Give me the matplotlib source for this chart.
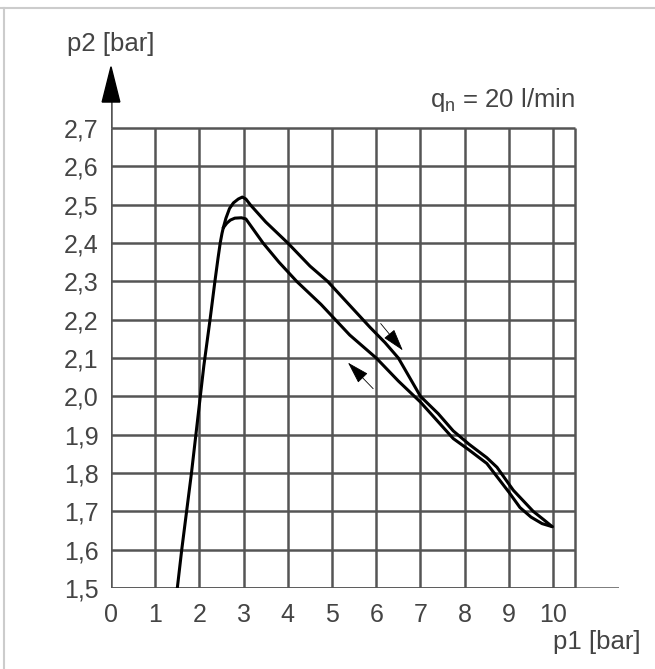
import numpy as np
import matplotlib
matplotlib.use('Agg')
import matplotlib.pyplot as plt
from matplotlib.lines import Line2D
from matplotlib.patches import Polygon

plt.rcParams['font.family'] = ['Liberation Sans', 'DejaVu Sans']
plt.rcParams['mathtext.default'] = 'regular'
TXT = '#444444'
GRID = '#555555'

# rising branch (shared by both curves)
rise_x = [1.50, 1.60, 1.71, 1.82, 1.92, 2.00, 2.10, 2.24, 2.35, 2.42, 2.47, 2.51, 2.54]
rise_y = [1.50, 1.60, 1.70, 1.80, 1.90, 1.98, 2.08, 2.20, 2.30, 2.36, 2.40, 2.425, 2.44]

# p1 increasing (upper branch)
up_x = [2.54, 2.60, 2.68, 2.77, 2.88, 2.97, 3.05, 3.15, 3.50, 4.00, 4.50, 4.90, 5.30,
        5.70, 5.86, 6.20, 6.50, 6.75, 7.00, 7.40, 7.74, 8.10, 8.50, 8.73, 9.10, 9.55,
        9.80, 9.98]
up_y = [2.44, 2.465, 2.49, 2.505, 2.515, 2.52, 2.515, 2.50, 2.455, 2.40, 2.34, 2.30, 2.25,
        2.20, 2.18, 2.14, 2.10, 2.05, 2.00, 1.955, 1.91, 1.875, 1.84, 1.815, 1.755, 1.70,
        1.677, 1.660]

# p1 decreasing (lower branch)
dn_x = [9.98, 9.75, 9.50, 9.25, 9.00, 8.50, 8.10, 7.74, 7.00, 6.50, 6.00, 5.40, 4.75,
        4.20, 3.80, 3.44, 3.05, 2.95, 2.80, 2.70, 2.62, 2.54]
dn_y = [1.660, 1.668, 1.685, 1.710, 1.750, 1.825, 1.860, 1.89, 1.985, 2.04, 2.10, 2.16,
        2.24, 2.30, 2.35, 2.40, 2.463, 2.466, 2.465, 2.46, 2.452, 2.44]

xticks = list(range(0, 11))
yticks = [1.5, 1.6, 1.7, 1.8, 1.9, 2.0, 2.1, 2.2, 2.3, 2.4, 2.5, 2.6, 2.7]
ylabels = [('%.1f' % v).replace('.', ',') for v in yticks]

fig = plt.figure(figsize=(6.55, 6.69), dpi=100)
ax = fig.add_axes([111 / 655, 81 / 669, 508 / 655, 522 / 669])
ax.set_xlim(0, 11.49)
ax.set_ylim(1.5, 2.862)
for s in ax.spines.values():
    s.set_visible(False)

# grid
ax.vlines(xticks + [10.5], 1.5, 2.7, color=GRID, lw=1.8, zorder=1)
ax.hlines(yticks, 0, 10.5, color=GRID, lw=1.8, zorder=1)
ax.hlines(1.5, 0, 11.49, color=GRID, lw=1.8, zorder=1)
ax.vlines(0, 2.7, 2.77, color=GRID, lw=1.8, zorder=1)
ax.add_patch(Polygon([[-0.2, 2.768], [0.2, 2.768], [0, 2.86]], closed=True,
                     color='black', clip_on=False, zorder=3))

# curves
lkw = dict(color='black', lw=2.2, zorder=2, solid_joinstyle='round', solid_capstyle='round')
ax.plot(rise_x, rise_y, **lkw)
ax.plot(up_x, up_y, **lkw)
ax.plot(dn_x, dn_y, **lkw)

# direction arrows
aprops = dict(arrowstyle='-|>,head_length=1.0,head_width=0.3', color='black',
              lw=0.6, mutation_scale=14, shrinkA=0, shrinkB=0)
ax.annotate('', xy=(6.60, 2.12), xytext=(6.10, 2.19), arrowprops=aprops)
ax.annotate('', xy=(5.36, 2.088), xytext=(5.93, 2.02), arrowprops=aprops)

ax.set_xticks(xticks)
ax.set_xticklabels([str(v) for v in xticks])
ax.set_yticks(yticks)
ax.set_yticklabels(ylabels)
ax.tick_params(length=0, labelsize=18, labelcolor=TXT)
ax.tick_params(axis='x', pad=11)
ax.tick_params(axis='y', pad=9)

ax.text(0, 2.919, 'p2 [bar]', ha='center', va='center', fontsize=18.5, color=TXT)
ax.text(11.97, 1.359, 'p1 [bar]', ha='right', va='center', fontsize=18.5, color=TXT,
        clip_on=False)
ax.text(10.5, 2.755, r'$\mathregular{q_n}$ = 20 l/min', ha='right', va='baseline',
        fontsize=18.5, color=TXT)

# light frame of the picture
fig.add_artist(Line2D([0, 1], [1 - 8 / 669, 1 - 8 / 669], color='#cccccc', lw=1.5))
fig.add_artist(Line2D([4 / 655, 4 / 655], [0, 1 - 8 / 669], color='#cccccc', lw=1.5))

fig.savefig('out.png', dpi=100, facecolor='white')
